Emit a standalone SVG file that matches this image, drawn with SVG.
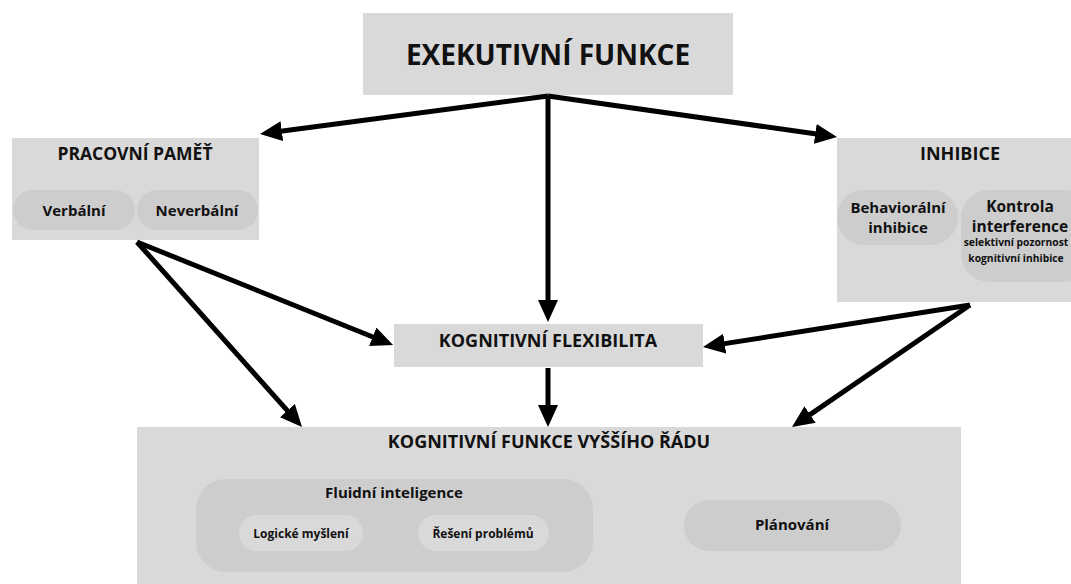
<svg xmlns="http://www.w3.org/2000/svg" width="1071" height="584" viewBox="0 0 1071 584">
<style>
.box{fill:#d9d9d9}
.pill{fill:#cdcdcd}
.pill2{fill:#d9d9d9}
text{font-family:"Open Sans","DejaVu Sans",sans-serif;font-weight:700;fill:#111;text-anchor:middle}
.conn{stroke:#000;stroke-width:5;fill:none;marker-end:url(#ah)}
</style>
<defs>
<marker id="ah" markerUnits="userSpaceOnUse" markerWidth="22" markerHeight="20" viewBox="0 0 22 20" refX="5" refY="10" orient="auto">
<path d="M0,0 L22,10 L0,20 z" fill="#000"/>
</marker>
</defs>
<rect width="1071" height="584" fill="#fff"/>
<g id="exekutivni">
<rect class="box" x="363" y="13" width="370" height="82"/>
<text x="548" y="65" font-size="28">EXEKUTIVNÍ FUNKCE</text>
</g>
<g id="pracovni">
<rect class="box" x="12" y="138" width="247" height="102"/>
<text x="135" y="160" font-size="17.5">PRACOVNÍ PAMĚŤ</text>
<rect class="pill" x="13" y="190" width="122" height="40" rx="20"/>
<text x="74" y="216" font-size="15">Verbální</text>
<rect class="pill" x="137" y="190" width="121" height="40" rx="20"/>
<text x="197" y="216" font-size="15">Neverbální</text>
</g>
<g id="inhibice">
<rect class="box" x="837" y="138" width="240" height="164"/>
<text x="960" y="160" font-size="18">INHIBICE</text>
<rect class="pill" x="837" y="190" width="121" height="55" rx="27"/>
<text x="898" y="213" font-size="15">Behaviorální</text>
<text x="898" y="233" font-size="15">inhibice</text>
<rect class="pill" x="961" y="190" width="130" height="92" rx="28"/>
<text x="1020" y="212" font-size="15.5">Kontrola</text>
<text x="1020" y="232" font-size="15.5">interference</text>
<text x="1016" y="246" font-size="10.3">selektivní pozornost</text>
<text x="1016" y="262" font-size="10.3">kognitivní inhibice</text>
</g>
<g id="flexibilita">
<rect class="box" x="394" y="324" width="309" height="43"/>
<text x="548" y="347" font-size="18">KOGNITIVNÍ FLEXIBILITA</text>
</g>
<g id="vyssi">
<rect class="box" x="137" y="427" width="824" height="160"/>
<text x="549" y="448" font-size="18">KOGNITIVNÍ FUNKCE VYŠŠÍHO ŘÁDU</text>
<rect class="pill" x="196" y="479" width="397" height="93" rx="30"/>
<text x="394" y="498" font-size="15">Fluidní inteligence</text>
<rect class="pill2" x="239" y="515" width="124" height="36" rx="18"/>
<text x="301" y="538" font-size="12">Logické myšlení</text>
<rect class="pill2" x="418" y="515" width="131" height="36" rx="18"/>
<text x="483" y="538" font-size="12">Řešení problémů</text>
<rect class="pill" x="684" y="500" width="217" height="51" rx="25"/>
<text x="792" y="530" font-size="15">Plánování</text>
</g>
<g id="connectors">
<line class="conn" x1="548" y1="96" x2="276.9" y2="131.8"/>
<line class="conn" x1="548" y1="96" x2="820.2" y2="134.6"/>
<line class="conn" x1="548" y1="96" x2="548" y2="305"/>
<line class="conn" x1="137" y1="242" x2="377.3" y2="338.7"/>
<line class="conn" x1="137" y1="242" x2="290.7" y2="414.3"/>
<line class="conn" x1="970" y1="305" x2="719.8" y2="344.4"/>
<line class="conn" x1="970" y1="305" x2="806" y2="417.4"/>
<line class="conn" x1="548" y1="368" x2="548" y2="410"/>
</g>
</svg>
